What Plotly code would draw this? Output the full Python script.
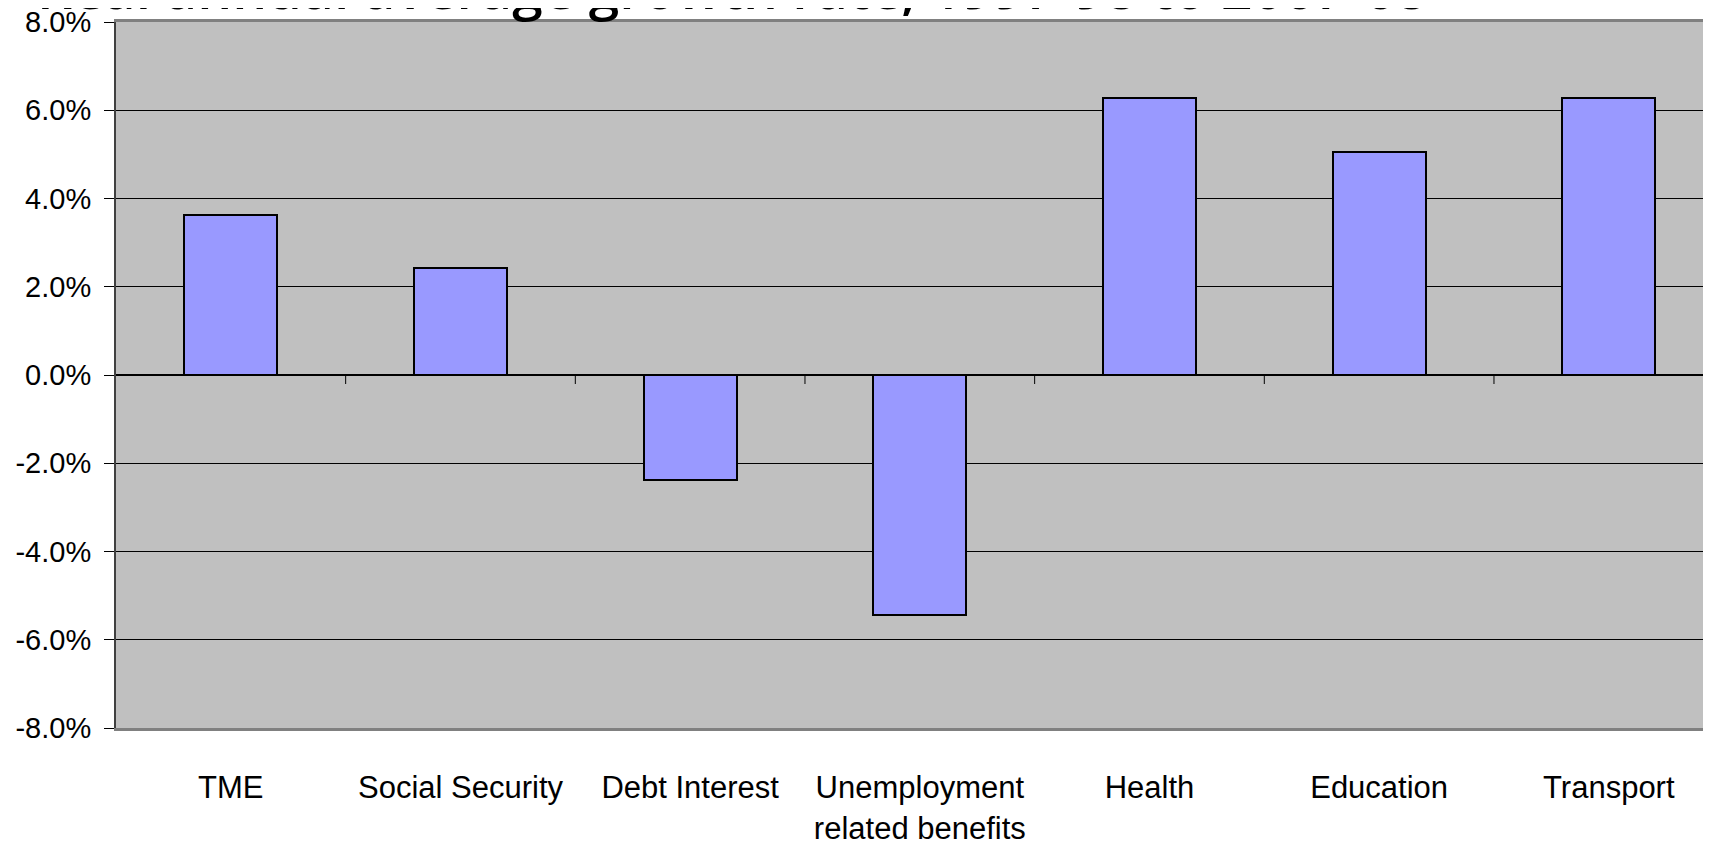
import plotly.graph_objects as go

title_text = "Real annual average growth rate, 1997-98 to 2007-08"
categories = ["TME", "Social Security", "Debt Interest", "Unemployment<br>related benefits",
              "Health", "Education", "Transport"]
growth_pct = [3.62, 2.42, -2.38, -5.45, 6.27, 5.05, 6.27]
y_tickvals = [-8, -6, -4, -2, 0, 2, 4, 6, 8]
y_ticktext = ["-8.0%", "-6.0%", "-4.0%", "-2.0%", "0.0%", "2.0%", "4.0%", "6.0%", "8.0%"]

n = len(categories)
xpos = list(range(n))

fig = go.Figure()
fig.add_trace(go.Bar(
    x=xpos, y=growth_pct, width=0.404,
    marker=dict(color="#9999FF", line=dict(color="#000000", width=2)),
    hoverinfo="y",
))

# category boundary tick marks on the zero line
shapes = []
for i in range(n - 1):
    b = i + 0.5
    shapes.append(dict(type="line", xref="x", yref="y", x0=b, x1=b,
                       ysizemode="pixel", yanchor=0, y0=0, y1=-9,
                       line=dict(color="#000000", width=1)))

fig.update_layout(
    width=1703, height=848,
    margin=dict(l=108, r=0, t=14, b=128),
    paper_bgcolor="#FFFFFF",
    plot_bgcolor="#C0C0C0",
    showlegend=False,
    bargap=0,
    shapes=shapes,
    font=dict(family="Liberation Sans, Arial, sans-serif", color="#000000"),
    annotations=[dict(
        text=title_text, xref="paper", yref="paper", x=-0.051, y=1,
        xanchor="left", yanchor="bottom", yshift=-5, showarrow=False,
        font=dict(family="Open Sans, sans-serif", size=55, weight=600, color="#000000"),
    )],
)
fig.update_xaxes(
    range=[-0.5, 6.445], automargin=False,
    tickvals=xpos, ticktext=categories,
    tickfont=dict(family="Liberation Sans, Arial, sans-serif", size=31),
    ticks="", ticklabelstandoff=30, ticklabeloverflow="allow",
    showgrid=False, zeroline=False,
    showline=True, linecolor="#808080", linewidth=3, mirror=True,
)
fig.update_yaxes(
    range=[-8, 8], automargin=False,
    tickvals=y_tickvals, ticktext=y_ticktext,
    tickfont=dict(family="Liberation Sans, Arial, sans-serif", size=29),
    ticks="outside", ticklen=10, tickcolor="#000000", tickwidth=1,
    ticklabelstandoff=7, ticklabeloverflow="allow",
    showgrid=True, gridcolor="#000000", gridwidth=1,
    zeroline=True, zerolinecolor="#000000", zerolinewidth=1.5,
    showline=True, linecolor="#404040", linewidth=2,
)

fig.write_html("out.html")
